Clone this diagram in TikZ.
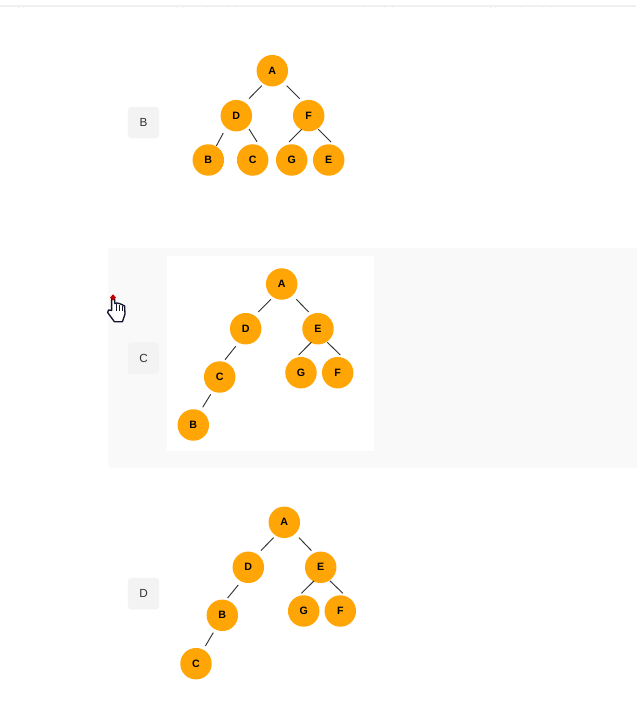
\documentclass[tikz,border=0pt]{standalone}
\usepackage{fontspec}
\setmainfont{Liberation Sans}
\usetikzlibrary{calc}
\definecolor{orangefill}{HTML}{FFA606}
\definecolor{panelgrey}{HTML}{F9F9F9}
\definecolor{tagfill}{HTML}{F3F3F3}
\definecolor{tagtext}{HTML}{333333}
\definecolor{topband}{HTML}{F0F0F0}
\definecolor{handline}{HTML}{14142B}
\tikzset{
  treenode/.style={circle,fill=orangefill,inner sep=0pt,minimum size=23.6pt,font=\bfseries\fontsize{8}{9}\selectfont,text=black},
  edgeline/.style={draw=black!80,line width=0.7pt},
  tagbox/.style={fill=tagfill,rounded corners=2.5pt,minimum width=23.4pt,minimum height=23.6pt,inner sep=0pt,font=\fontsize{8.8}{10}\selectfont,text=tagtext},
  tick/.style={draw=topband,line width=0.6pt}
}
\begin{document}
\begin{tikzpicture}[x=0.75pt,y=-0.75pt]
\useasboundingbox (0,0) rectangle (636,712);
\fill[white] (0,0) rectangle (636,712);
% top band
\fill[topband] (0,5) rectangle (636,7);
\foreach \tx in {18,23,50,69,77,176,182,206,227,235,333,338,364,384,392,490,495,521,542,550}
  \draw[tick] (\tx,7) -- (\tx,8);
% panel
\fill[panelgrey,rounded corners=2.5pt] (108,248) rectangle (650,468);
\fill[white] (167,256) rectangle (374,451);
% tags
\node[tagbox] (tagB) at (143.5,122.7) {B};
\node[tagbox] (tagC) at (143.5,358.2) {C};
\node[tagbox] (tagD) at (143.5,593.7) {D};
% tree B
\node[treenode] (bA) at (272.3,70.7) {A};
\node[treenode] (bD) at (236.3,115.7) {D};
\node[treenode] (bF) at (308.7,115.7) {F};
\node[treenode] (bB) at (208.3,160) {B};
\node[treenode] (bC) at (252.7,160) {C};
\node[treenode] (bG) at (291.7,160) {G};
\node[treenode] (bE) at (328.7,160) {E};
\draw[edgeline] ($(bA)+(-10.6,15)$) -- ($(bD)+(12.7,-17)$);
\draw[edgeline] ($(bA)+(14.4,15)$) -- ($(bF)+(-9,-17)$);
\draw[edgeline] ($(bD)+(-13,17.3)$) -- ($(bB)+(8,-14)$);
\draw[edgeline] ($(bD)+(12.7,13.3)$) -- ($(bC)+(4.3,-18.3)$);
\draw[edgeline] ($(bF)+(-7,13.6)$) -- ($(bG)+(-2.7,-18)$);
\draw[edgeline] ($(bF)+(9.6,13.6)$) -- ($(bE)+(2.3,-18)$);
% tree C
\node[treenode] (cA) at (281.7,284) {A};
\node[treenode] (cD) at (245.7,328.7) {D};
\node[treenode] (cE) at (318,328.7) {E};
\node[treenode] (cC) at (219.7,377) {C};
\node[treenode] (cG) at (301,372.7) {G};
\node[treenode] (cF) at (337.7,372.7) {F};
\node[treenode] (cB) at (193.3,425) {B};
\draw[edgeline] ($(cA)+(-10.7,15.3)$) -- ($(cD)+(12.6,-16.7)$);
\draw[edgeline] ($(cA)+(14.6,15.3)$) -- ($(cE)+(-9.3,-16.7)$);
\draw[edgeline] ($(cD)+(-10,17.6)$) -- ($(cC)+(5.3,-17.3)$);
\draw[edgeline] ($(cC)+(-9,17.3)$) -- ($(cB)+(9.4,-17.7)$);
\draw[edgeline] ($(cE)+(-6.7,13.6)$) -- ($(cG)+(-2.3,-17.7)$);
\draw[edgeline] ($(cE)+(9.3,13.6)$) -- ($(cF)+(2.6,-17.7)$);
% tree D
\node[treenode] (dA) at (284.3,522.3) {A};
\node[treenode] (dD) at (248.3,567.3) {D};
\node[treenode] (dE) at (320.7,567.3) {E};
\node[treenode] (dB) at (222.3,615.3) {B};
\node[treenode] (dG) at (303.7,611) {G};
\node[treenode] (dF) at (340.3,611) {F};
\node[treenode] (dC) at (196,663.7) {C};
\draw[edgeline] ($(dA)+(-10.7,15.3)$) -- ($(dD)+(12.6,-16.7)$);
\draw[edgeline] ($(dA)+(14.6,15.3)$) -- ($(dE)+(-9.3,-16.7)$);
\draw[edgeline] ($(dD)+(-10,17.6)$) -- ($(dB)+(5.3,-17.3)$);
\draw[edgeline] ($(dB)+(-9,17.3)$) -- ($(dC)+(9.4,-17.7)$);
\draw[edgeline] ($(dE)+(-6.7,13.6)$) -- ($(dG)+(-2.3,-17.7)$);
\draw[edgeline] ($(dE)+(9.3,13.6)$) -- ($(dF)+(2.6,-17.7)$);
% hand cursor
\draw[handline,fill=white,line width=1pt,line join=round]
  (111.6,310.5) -- (111.6,299.5) .. controls (111.8,297.5) and (114.4,297.5) .. (114.6,299.5)
  -- (114.8,303.5) -- (117,303) -- (119.6,303.6) -- (122,304.6) -- (124.6,306)
  -- (125,314) -- (122.4,321.8) -- (114.5,321.8) -- (107.6,312.5)
  .. controls (107,310.2) and (109.5,308.8) .. (111.6,310.5) -- cycle;
\draw[handline,line width=0.7pt] (116.8,304) -- (116.8,311);
\draw[handline,line width=0.7pt] (119.6,304.5) -- (119.6,311);
\draw[handline,line width=0.7pt] (122.2,305.5) -- (122.2,311);
\fill[red!75!black] (113,294.4) -- (116,297.6) -- (113,300.6) -- (110,297.6) -- cycle;
\end{tikzpicture}
\end{document}
